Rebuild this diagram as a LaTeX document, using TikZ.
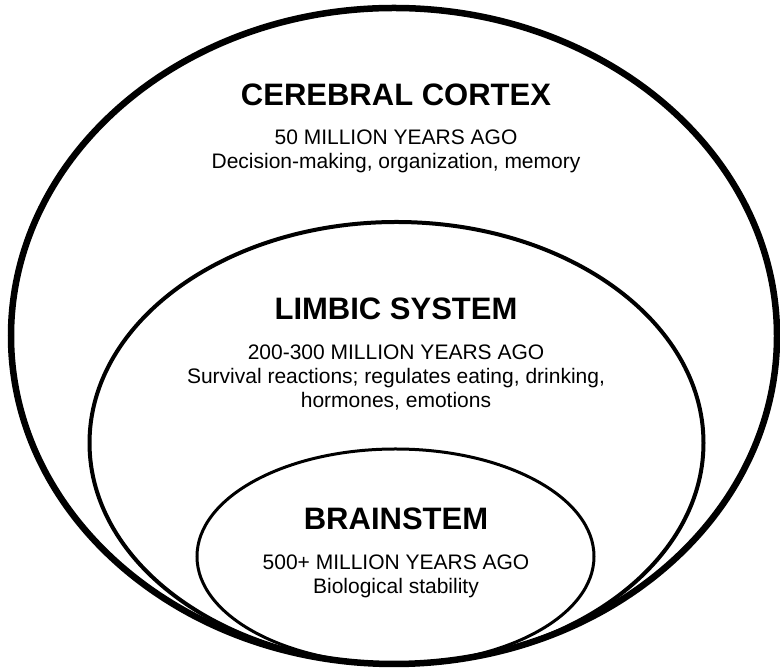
\documentclass[tikz,border=0pt]{standalone}
\usepackage{fontspec}
\setmainfont{Liberation Sans}
\usepackage{tikz}

\begin{document}
\begin{tikzpicture}[x=1pt, y=1pt,
    zonetitle/.style={anchor=base, font=\fontsize{31}{37}\selectfont\bfseries, inner sep=0pt},
    zonetext/.style={anchor=base, align=center, font=\fontsize{21}{24}\selectfont, inner sep=0pt}]
			%%%%% START %%%%%
			\useasboundingbox (0, 0) rectangle (780, 671);
			
			% nested layers, all touching at the bottom
			\draw[line width=6.5pt] (394, 335) ellipse (383 and 328);
			\draw[line width=4pt] (396.5, 228) ellipse (307 and 221);
			\draw[line width=3pt] (395.5, 114.5) ellipse (198.5 and 107.5);
			
			% base of a text node = baseline of its last line
			\node[zonetitle] (cortex) at (396, 565) {CEREBRAL CORTEX};
			\node[zonetext] (cortexinfo) at (396, 502) {50 MILLION YEARS AGO\\Decision-making, organization, memory};
			
			\node[zonetitle] (limbic) at (396, 351) {LIMBIC SYSTEM};
			\node[zonetext] (limbicinfo) at (396, 263) {200-300 MILLION YEARS AGO\\Survival reactions; regulates eating, drinking,\\hormones, emotions};
			
			\node[zonetitle] (brainstem) at (396, 141) {BRAINSTEM};
			\node[zonetext] (brainsteminfo) at (396, 77) {500+ MILLION YEARS AGO\\Biological stability};
			
			%%%%% END %%%%%
\end{tikzpicture}
\end{document}
